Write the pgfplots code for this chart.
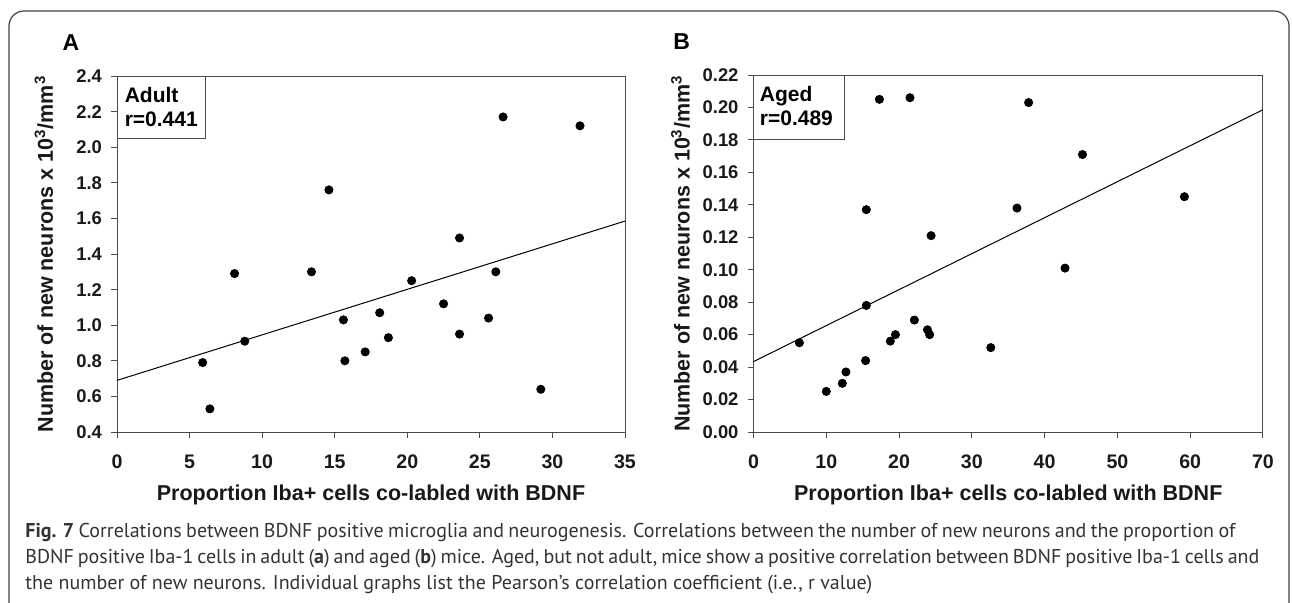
\documentclass[border=0pt]{standalone}
\usepackage{fontspec}
\setmainfont{Liberation Sans}
\newfontfamily\capfont{PT Sans}
\usepackage{pgfplots}
\usepackage{pgfplotstable}
\pgfplotsset{compat=1.18}

% adult mice: proportion Iba+ / BDNF vs new neurons
\pgfplotstableread{
x y
5.9 0.79
6.4 0.53
8.1 1.29
8.8 0.91
13.4 1.30
14.6 1.76
15.6 1.03
15.7 0.80
17.1 0.85
18.1 1.07
18.7 0.93
20.3 1.25
22.5 1.12
23.6 1.49
23.6 0.95
25.6 1.04
26.1 1.30
26.6 2.17
29.2 0.64
31.9 2.12
}\adult

% aged mice
\pgfplotstableread{
x y
6.3 0.055
10.0 0.025
12.2 0.030
12.7 0.037
15.4 0.044
15.5 0.137
15.5 0.078
17.3 0.205
18.8 0.056
19.5 0.060
21.5 0.206
22.1 0.069
23.9 0.063
24.2 0.060
24.4 0.121
32.6 0.052
36.2 0.138
37.8 0.203
42.8 0.101
45.2 0.171
59.2 0.145
}\aged

\pgfplotsset{
    panel/.style={
        scale only axis,
        width=254bp,
        height=178bp,
        anchor=south west,
        axis line style={black!70, line width=0.5bp},
        tick style={black!70, line width=0.5bp},
        tick align=outside,
        xtick pos=bottom,
        ytick pos=left,
        major tick length=3bp,
        /pgf/number format/assume math mode=true,
        xticklabel style={font=\bfseries\fontsize{9.8bp}{11bp}\selectfont, text=black!90, yshift=-5bp},
        yticklabel style={font=\bfseries\fontsize{9.2bp}{11bp}\selectfont, text=black!90, xshift=-1bp},
        label style={font=\bfseries\fontsize{10.75bp}{12bp}\selectfont, text=black!90},
        xlabel style={at={([yshift=-34bp]axis description cs:0.5,0)}, anchor=base},
        ylabel style={at={([xshift=-32bp]axis description cs:0,0.5)}, anchor=base},
        xlabel={Proportion Iba+ cells co-labled with BDNF},
        ylabel={Number of new neurons x 10\textsuperscript{3}/mm\textsuperscript{3}},
        clip=false,
    },
    dots/.style={only marks, mark=*, mark size=2.05bp, black},
    fit/.style={black, line width=0.5bp, no marks},
}

\begin{document}
\begin{tikzpicture}
\useasboundingbox (0,0) rectangle (646bp,301.5bp);
\draw[black!75, line width=0.6bp, rounded corners=7.5bp]
    (4.5bp,-5bp) -- (4.5bp,296bp) -- (644.5bp,296bp) -- (644.5bp,-5bp);

\node[font=\bfseries\fontsize{11.5bp}{12bp}\selectfont] at (35.5bp,280bp) {A};
\node[font=\bfseries\fontsize{11.5bp}{12bp}\selectfont] at (340.8bp,280.5bp) {B};

\begin{axis}[panel,
    at={(58.5bp,85.5bp)},
    xmin=0, xmax=35, ymin=0.4, ymax=2.4,
    xtick={0,5,...,35},
    ytick={0.4,0.6,...,2.41},
    yticklabel style={/pgf/number format/.cd, fixed, fixed zerofill, precision=1},
]
\addplot[dots] table[x=x, y=y] {\adult};
\addplot[fit] coordinates {(0,0.69) (35,1.585)};
\draw[black!70, line width=0.5bp] (rel axis cs:0,1) rectangle ([xshift=44.3bp, yshift=-31bp]rel axis cs:0,1);
\node[anchor=north west, align=left, inner sep=0pt, font=\bfseries\fontsize{10.5bp}{12bp}\selectfont]
    at ([xshift=3.7bp, yshift=-5.6bp]rel axis cs:0,1) {Adult\\r=0.441};
\end{axis}

\begin{axis}[panel,
    at={(376.75bp,85.5bp)},
    width=254.75bp, height=178.5bp,
    xmin=0, xmax=70, ymin=0, ymax=0.22,
    xtick={0,10,...,70},
    ytick={0,0.02,...,0.221},
    yticklabel style={/pgf/number format/.cd, fixed, fixed zerofill, precision=2},
]
\addplot[dots] table[x=x, y=y] {\aged};
\addplot[fit] coordinates {(0,0.0434) (70,0.1986)};
\draw[black!70, line width=0.5bp] (rel axis cs:0,1) rectangle ([xshift=45.5bp, yshift=-32bp]rel axis cs:0,1);
\node[anchor=north west, align=left, inner sep=0pt, font=\bfseries\fontsize{10.5bp}{12bp}\selectfont]
    at ([xshift=3bp, yshift=-5.6bp]rel axis cs:0,1) {Aged\\r=0.489};
\end{axis}

\node[anchor=north west, align=left, inner sep=0pt, text=black!80,
      font=\capfont\fontsize{10bp}{13bp}\selectfont] at (12.5bp,40bp)
{\makebox[605bp][s]{\textbf{Fig. 7} Correlations between BDNF positive microglia and neurogenesis. Correlations between the number of new neurons and the proportion of}\\
\makebox[617bp][s]{BDNF positive Iba-1 cells in adult (\textbf{a}) and aged (\textbf{b}) mice. Aged, but not adult, mice show a positive correlation between BDNF positive Iba-1 cells and}\\
the number of new neurons. Individual graphs list the Pearson’s correlation coefficient (i.e., r value)};
\end{tikzpicture}
\end{document}
